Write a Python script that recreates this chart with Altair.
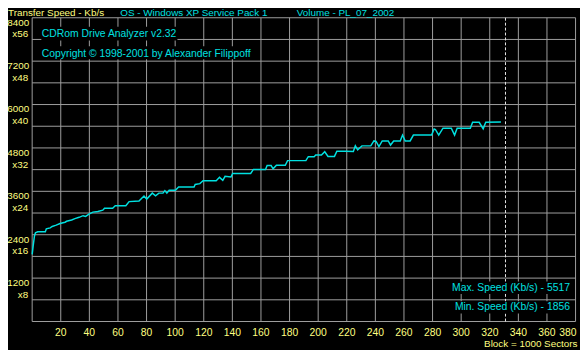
import altair as alt
import pandas as pd

# ---- data ----
block_pos = [0, 0.7, 1.6, 2.3, 3.9, 9.2, 9.9, 12.6, 14, 16.8, 19.5, 23, 24.1, 27.6, 29.9,
             32.8, 35.6, 37.4, 39.7, 42.5, 45.9, 49.4, 50.6, 56.3, 58.1, 65.5, 67.8, 74.7,
             78.2, 80.1, 84, 86.3, 88.6, 91.5, 92.8, 94.2, 95.8, 100.2, 102.4, 113.2, 114,
             117.3, 119.5, 128.7, 131, 133.3, 134.9, 139, 140.2, 152.8, 154.7, 163.2, 164.3,
             167.1, 168.5, 170.8, 177, 178.6, 191.4, 193.1, 197.2, 198.3, 202.3, 204.6,
             206.9, 211.4, 213.1, 219.5, 224.6, 226, 227.6, 230.6, 236.8, 239, 240.5, 242.5,
             244.8, 249, 250.6, 252.8, 257.4, 259, 260.9, 264.3, 266.6, 279.3, 281.1, 282,
             284.3, 287.3, 293.1, 295.4, 297.2, 306.4, 308, 312.6, 315.4, 317.2, 327.8]
speed_kbs = [1856, 2093, 2365, 2454, 2481, 2481, 2563, 2590, 2628, 2664, 2710, 2745, 2772,
             2808, 2846, 2881, 2927, 2908, 2971, 3025, 3044, 3080, 3134, 3134, 3199, 3199,
             3316, 3335, 3471, 3385, 3550, 3475, 3550, 3550, 3620, 3550, 3628, 3630, 3720,
             3720, 3790, 3813, 3895, 3895, 3987, 3906, 4014, 3995, 4096, 4096, 4205, 4205,
             4313, 4313, 4221, 4320, 4320, 4449, 4449, 4558, 4558, 4602, 4602, 4694, 4566,
             4566, 4710, 4710, 4700, 4857, 4748, 4857, 4857, 4993, 4980, 4838, 4993, 4993,
             4880, 4993, 4993, 5156, 4993, 4993, 5156, 5156, 5327, 5310, 5156, 5346, 5346,
             5156, 5346, 5346, 5509, 5509, 5327, 5509, 5517]
y_label_values = [1200, 2400, 3600, 4800, 6000, 7200, 8400]
y_label_mult = ["x8", "x16", "x24", "x32", "x40", "x48", "x56"]
x_label_values = list(range(20, 381, 20))
x_grid_values = list(range(0, 381, 20))
y_grid_values = list(range(0, 8401, 600))
volume_end = [331]
max_speed = 5517
min_speed = 1856

# ---- styling ----
W, H = 551, 308           # 29 px per 20 blocks, 22 px per 600 Kb/s
FONT = "Liberation Sans"
FS = 10.5
FSY = 10
YELLOW = "#FFFF80"
CYAN = "#00E0E0"
GRID = "#A0A0A0"

xs = alt.Scale(domain=[0, 380], nice=False, zero=False)
ys = alt.Scale(domain=[0, 8400], nice=False, zero=False)

line_df = pd.DataFrame({"block": block_pos, "speed": speed_kbs})

vgrid = alt.Chart(pd.DataFrame({"block": x_grid_values})).mark_rule(
    color=GRID, strokeWidth=1).encode(
    x=alt.X("block:Q", scale=xs, axis=None), y=alt.value(0), y2=alt.value(H))
hgrid = alt.Chart(pd.DataFrame({"speed": y_grid_values})).mark_rule(
    color=GRID, strokeWidth=1).encode(
    y=alt.Y("speed:Q", scale=ys, axis=None), x=alt.value(0), x2=alt.value(W))

line = alt.Chart(line_df).mark_line(color=CYAN, strokeWidth=1.5, interpolate="linear").encode(
    x=alt.X("block:Q", scale=xs, axis=None),
    y=alt.Y("speed:Q", scale=ys, axis=None),
    order="block:Q",
)


def one(text):
    return pd.DataFrame({"t": [text]})


def box(x1, x2, y1, y2):
    return alt.Chart(one("")).mark_rect(color="black").encode(
        x=alt.value(x1), x2=alt.value(x2), y=alt.value(y1), y2=alt.value(y2))


def label(text, x, y, color, align="left", baseline="middle", size=FS):
    return alt.Chart(one(text)).mark_text(
        color=color, font=FONT, fontSize=size, align=align, baseline=baseline
    ).encode(x=alt.value(x), y=alt.value(y), text="t:N")


dash = alt.Chart(pd.DataFrame({"block": volume_end})).mark_rule(
    color="#E8E8E8", strokeWidth=1, strokeDash=[3, 2]
).encode(x=alt.X("block:Q", scale=xs, axis=None), y=alt.value(0), y2=alt.value(H))

ylab_df = pd.DataFrame({"speed": y_label_values, "num": [str(v) for v in y_label_values],
                        "mult": y_label_mult})
ynum = alt.Chart(ylab_df).mark_text(color=YELLOW, font=FONT, fontSize=FSY, align="right",
                                    baseline="middle", dy=5).encode(
    x=alt.value(-3), y=alt.Y("speed:Q", scale=ys, axis=None), text="num:N")
ymult = alt.Chart(ylab_df).mark_text(color=YELLOW, font=FONT, fontSize=FSY, align="right",
                                     baseline="middle", dy=17).encode(
    x=alt.value(-4), y=alt.Y("speed:Q", scale=ys, axis=None), text="mult:N")

xlab_df = pd.DataFrame({"block": x_label_values, "lab": [str(v) for v in x_label_values]})
xlab_c = alt.Chart(xlab_df).transform_filter("datum.block < 380").mark_text(
    color=YELLOW, font=FONT, fontSize=FS, align="center", baseline="alphabetic").encode(
    x=alt.X("block:Q", scale=xs, axis=None), y=alt.value(H + 15), text="lab:N")
xlab_r = alt.Chart(xlab_df).transform_filter("datum.block >= 380").mark_text(
    color=YELLOW, font=FONT, fontSize=FS, align="right", baseline="alphabetic", dx=1).encode(
    x=alt.X("block:Q", scale=xs, axis=None), y=alt.value(H + 15), text="lab:N")

layers = [
    vgrid,
    hgrid,
    line,
    box(9.3, 147.3, 9, 23),
    box(9.3, 222.3, 29, 42),
    label("CDRom Drive Analyzer v2.32", 9.8, 16.5, CYAN),
    label("Copyright \u00a9 1998-2001 by Alexander Filippoff", 9.8, 36.5, CYAN),
    dash,
    box(421.3, 548.3, 267.5, 280),
    box(421.3, 548.3, 287.5, 300),
    label(f"Max. Speed (Kb/s) - {max_speed}", 545.3, 273.7, CYAN, align="right"),
    label(f"Min.  Speed (Kb/s) - {min_speed}", 545.3, 293.7, CYAN, align="right"),
    ynum,
    ymult,
    xlab_c,
    xlab_r,
    label("Transfer Speed - Kb/s", -24.5, -2, YELLOW, baseline="alphabetic", size=10),
    label("OS - Windows XP Service Pack 1", 89.3, -2, CYAN, baseline="alphabetic", size=10),
    label("Volume - PL_07_2002", 268.3, -2, CYAN, baseline="alphabetic", size=10),
    label("Block = 1000 Sectors", W + 2, H + 25.5, YELLOW, align="right", baseline="alphabetic",
          size=10),
]

chart = alt.layer(*layers).properties(
    width=W, height=H,
    padding={"left": 24.5, "top": 7.5, "right": 4.5, "bottom": 26.5},
    autosize=alt.AutoSizeParams(type="none"),
    background="black",
).configure_view(stroke=None)

chart.save("out.html", embed_options={"renderer": "svg", "actions": False})
